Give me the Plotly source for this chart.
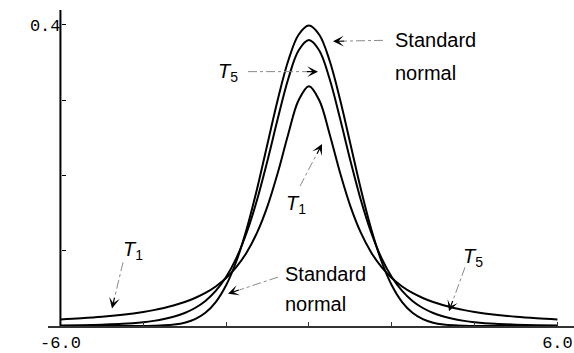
import math
import plotly.graph_objects as go

# ---- data ----
x_vals = [-6, -5.5, -5, -4.5, -4, -3.75, -3.5, -3.25, -3, -2.75, -2.5, -2.25, -2,
          -1.75, -1.5, -1.25, -1, -0.75, -0.5, -0.25, 0, 0.25, 0.5, 0.75, 1, 1.25,
          1.5, 1.75, 2, 2.25, 2.5, 2.75, 3, 3.25, 3.5, 3.75, 4, 4.5, 5, 5.5, 6]

normal_pdf = [0.0000, 0.0000, 0.0000, 0.0000, 0.0001, 0.0004, 0.0009, 0.0020, 0.0044,
              0.0091, 0.0175, 0.0317, 0.0540, 0.0863, 0.1295, 0.1826, 0.2420, 0.3011,
              0.3521, 0.3867, 0.3989, 0.3867, 0.3521, 0.3011, 0.2420, 0.1826, 0.1295,
              0.0863, 0.0540, 0.0317, 0.0175, 0.0091, 0.0044, 0.0020, 0.0009, 0.0004,
              0.0001, 0.0000, 0.0000, 0.0000, 0.0000]

t5_pdf = [0.0007, 0.0011, 0.0018, 0.0029, 0.0051, 0.0068, 0.0092, 0.0126, 0.0173,
          0.0239, 0.0333, 0.0466, 0.0651, 0.0905, 0.1245, 0.1679, 0.2197, 0.2757,
          0.3279, 0.3657, 0.3796, 0.3657, 0.3279, 0.2757, 0.2197, 0.1679, 0.1245,
          0.0905, 0.0651, 0.0466, 0.0333, 0.0239, 0.0173, 0.0126, 0.0092, 0.0068,
          0.0051, 0.0029, 0.0018, 0.0011, 0.0007]

t1_pdf = [0.0086, 0.0102, 0.0122, 0.0150, 0.0187, 0.0211, 0.0240, 0.0275, 0.0318,
          0.0372, 0.0439, 0.0525, 0.0637, 0.0784, 0.0979, 0.1242, 0.1592, 0.2037,
          0.2546, 0.2996, 0.3183, 0.2996, 0.2546, 0.2037, 0.1592, 0.1242, 0.0979,
          0.0784, 0.0637, 0.0525, 0.0439, 0.0372, 0.0318, 0.0275, 0.0240, 0.0211,
          0.0187, 0.0150, 0.0122, 0.0102, 0.0086]

x_tickvals = [-6, -4, -2, 0, 2, 4, 6]
x_ticktext = ["-6.0", "", "", "", "", "", "6.0"]
y_tickvals = [0.1, 0.2, 0.3, 0.4]
y_ticktext = ["", "", "", "0.4"]

# ---- layout geometry ----
W, H = 574, 353
ML, MR, MT, MB = 48, 0, 10, 20
XR = [-6.30, 6.40]
YR = [0.0, 0.4195]


def dx(px):
    return XR[0] + (px - ML) / (W - ML - MR) * (XR[1] - XR[0])


def dy(py):
    return YR[0] + (H - MB - py) / (H - MT - MB) * (YR[1] - YR[0])


fig = go.Figure()
for ys in (normal_pdf, t5_pdf, t1_pdf):
    fig.add_trace(go.Scatter(x=x_vals, y=ys, mode="lines",
                             line=dict(color="black", width=2, shape="spline", smoothing=1.0),
                             hoverinfo="skip", showlegend=False))

# arrows: (tail px, tip px)
arrows = [((383, 41), (333, 42)),
          ((248, 73), (318, 73)),
          ((300, 190), (322, 147)),
          ((278, 283), (228, 300)),
          ((465, 273), (449, 318)),
          ((123, 268), (112, 315))]

shapes = []
annotations = []
HEAD = 12
for (tx, ty), (hx, hy) in arrows:
    L = math.hypot(tx - hx, ty - hy)
    ux, uy = (tx - hx) / L, (ty - hy) / L
    bx, by = hx + ux * HEAD, hy + uy * HEAD
    shapes.append(dict(type="line", xref="x", yref="y", x0=dx(tx), y0=dy(ty), x1=dx(bx), y1=dy(by),
                       line=dict(color="#8a8a8a", width=1, dash="dashdot")))
    annotations.append(dict(x=dx(hx), y=dy(hy), xref="x", yref="y", text=" ",
                            font=dict(size=1), borderpad=0,
                            showarrow=True, arrowhead=3, arrowsize=1.5, arrowwidth=1.2,
                            arrowcolor="black", ax=bx - hx, ay=by - hy, axref="pixel", ayref="pixel"))

# y axis line at x = -6
shapes.append(dict(type="line", xref="x", yref="y", x0=-6, x1=-6, y0=0, y1=YR[1],
                   line=dict(color="black", width=2)))

TF = dict(family="Liberation Sans, Arial, sans-serif", size=20, color="black")
labels = [("Standard", 393, 41), ("normal", 393, 74),
          ("Standard", 283, 280), ("normal", 283, 311),
          ("<i>T</i><sub>5</sub>", 216, 74),
          ("<i>T</i><sub>1</sub>", 284, 209),
          ("<i>T</i><sub>5</sub>", 461, 263),
          ("<i>T</i><sub>1</sub>", 121, 256)]
for txt, px, py in labels:
    annotations.append(dict(x=dx(px), y=dy(py), xref="x", yref="y", text=txt, showarrow=False,
                            xanchor="left", yanchor="middle", font=TF))

annotations.append(dict(x=dx(28), y=dy(170), xref="x", yref="y", text="pdf", textangle=-90,
                        showarrow=False, font=dict(family="Liberation Sans, Arial, sans-serif",
                                                   size=18, color="black")))

MONO = dict(family="Liberation Mono, Courier New, monospace", size=17, color="black")
fig.update_layout(
    width=W, height=H,
    margin=dict(l=ML, r=MR, t=MT, b=MB),
    paper_bgcolor="white", plot_bgcolor="white",
    shapes=shapes, annotations=annotations,
    xaxis=dict(range=XR, showgrid=False, zeroline=False, showline=True, linecolor="#333",
               linewidth=1.5, ticks="inside", ticklen=4, tickcolor="#333",
               tickvals=x_tickvals, ticktext=x_ticktext, tickfont=MONO),
    yaxis=dict(range=YR, showgrid=False, zeroline=False, showline=False,
               ticks="", showticklabels=False),
    yaxis2=dict(overlaying="y", anchor="free", position=(60.5 - ML) / (W - ML - MR),
                range=YR, showgrid=False, zeroline=False, showline=False,
                ticks="inside", ticklen=4, tickcolor="black", tickwidth=1,
                tickvals=y_tickvals, ticktext=y_ticktext, tickfont=MONO),
)
fig.add_trace(go.Scatter(x=[None], y=[None], yaxis="y2", showlegend=False, hoverinfo="skip"))

fig.write_html("out.html", config={"displayModeBar": False},
               post_script="document.body.style.margin='0';document.body.style.overflow='hidden';")
